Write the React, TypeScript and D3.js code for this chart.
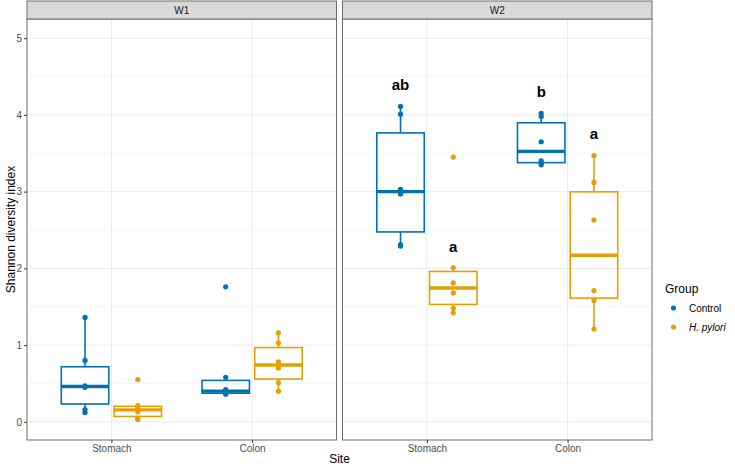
import { useEffect, useRef } from 'react'
import * as d3 from 'd3'

const WEEKS = ['W1', 'W2']
const SITES = ['Stomach', 'Colon']
const GROUPS = ['Control', 'H. pylori']
const Y_TICKS = [0, 1, 2, 3, 4, 5]

// Shannon values
const w1ControlStomach = [1.36, 0.8, 0.47, 0.45, 0.16, 0.12]
const w1PyloriStomach = [0.55, 0.21, 0.18, 0.13, 0.05, 0.03]
const w1ControlColon = [1.76, 0.58, 0.42, 0.38, 0.37, 0.36]
const w1PyloriColon = [1.16, 1.03, 0.78, 0.7, 0.51, 0.4]
const w2ControlStomach = [4.11, 4.01, 3.03, 2.97, 2.31, 2.29]
const w2PyloriStomach = [3.45, 2.01, 1.81, 1.68, 1.48, 1.42]
const w2ControlColon = [4.02, 3.98, 3.65, 3.4, 3.37, 3.35]
const w2PyloriColon = [3.47, 3.12, 2.63, 1.71, 1.58, 1.21]

// significance letters (W2 only), order: Stomach/Control, Stomach/Pylori, Colon/Control, Colon/Pylori
const w2Letters = ['ab', 'a', 'b', 'a']

const COLORS: Record<string, string> = {
  Control: '#0072B2',
  'H. pylori': '#E69F00',
}

type Cell = { week: string; site: string; group: string; values: number[]; letter?: string }

const cells: Cell[] = [
  { week: 'W1', site: 'Stomach', group: 'Control', values: w1ControlStomach },
  { week: 'W1', site: 'Stomach', group: 'H. pylori', values: w1PyloriStomach },
  { week: 'W1', site: 'Colon', group: 'Control', values: w1ControlColon },
  { week: 'W1', site: 'Colon', group: 'H. pylori', values: w1PyloriColon },
  { week: 'W2', site: 'Stomach', group: 'Control', values: w2ControlStomach, letter: w2Letters[0] },
  { week: 'W2', site: 'Stomach', group: 'H. pylori', values: w2PyloriStomach, letter: w2Letters[1] },
  { week: 'W2', site: 'Colon', group: 'Control', values: w2ControlColon, letter: w2Letters[2] },
  { week: 'W2', site: 'Colon', group: 'H. pylori', values: w2PyloriColon, letter: w2Letters[3] },
]

function boxStats(values: number[]) {
  const s = [...values].sort(d3.ascending)
  const q1 = d3.quantile(s, 0.25) ?? 0
  const med = d3.quantile(s, 0.5) ?? 0
  const q3 = d3.quantile(s, 0.75) ?? 0
  const iqr = q3 - q1
  const lo = d3.min(s.filter((v) => v >= q1 - 1.5 * iqr)) ?? q1
  const hi = d3.max(s.filter((v) => v <= q3 + 1.5 * iqr)) ?? q3
  return { q1, med, q3, lo, hi }
}

export default function App() {
  const svgRef = useRef<SVGSVGElement>(null)

  useEffect(() => {
    document.body.style.margin = '0'
    if (!svgRef.current) return
    const width = 735
    const height = 468
    const font = '"Liberation Sans", Arial, sans-serif'

    const panelTop = 19
    const panelBottom = 440
    const stripTop = 1
    const panels = [
      { week: 'W1', left: 27, right: 336.5 },
      { week: 'W2', left: 342.5, right: 652 },
    ]

    const svg = d3.select(svgRef.current)
    svg.selectAll('*').remove()
    svg.attr('width', width).attr('height', height).style('font-family', font)
    svg.append('rect').attr('width', width).attr('height', height).attr('fill', '#fff')

    const y = d3.scaleLinear([-0.237, 5.25], [panelBottom, panelTop])
    const minorTicks = d3.range(-0.5, 5.5, 1).filter((v) => y(v) <= panelBottom && y(v) >= panelTop)

    panels.forEach((p, pi) => {
      const x = d3.scalePoint(SITES, [p.left, p.right]).padding(0.6)
      const step = x.step()
      const dodge = d3.scalePoint(GROUPS, [-0.1875 * step, 0.1875 * step])
      const boxW = 0.3375 * step

      const g = svg.append('g')

      // grid
      g.selectAll('line.minor')
        .data(minorTicks)
        .join('line')
        .attr('x1', p.left)
        .attr('x2', p.right)
        .attr('y1', (d) => y(d))
        .attr('y2', (d) => y(d))
        .attr('stroke', '#F2F2F2')
        .attr('stroke-width', 0.6)
      g.selectAll('line.major')
        .data(Y_TICKS)
        .join('line')
        .attr('x1', p.left)
        .attr('x2', p.right)
        .attr('y1', (d) => y(d))
        .attr('y2', (d) => y(d))
        .attr('stroke', '#EBEBEB')
        .attr('stroke-width', 1)
      g.selectAll('line.vmajor')
        .data(SITES)
        .join('line')
        .attr('x1', (d) => x(d) ?? 0)
        .attr('x2', (d) => x(d) ?? 0)
        .attr('y1', panelTop)
        .attr('y2', panelBottom)
        .attr('stroke', '#EBEBEB')
        .attr('stroke-width', 1)

      // boxes
      const data = cells.filter((c) => c.week === p.week)
      data.forEach((c) => {
        const cx = (x(c.site) ?? 0) + (dodge(c.group) ?? 0)
        const st = boxStats(c.values)
        const col = COLORS[c.group]
        const bg = g.append('g')
        bg.append('line')
          .attr('x1', cx).attr('x2', cx)
          .attr('y1', y(st.q3)).attr('y2', y(st.hi))
          .attr('stroke', col).attr('stroke-width', 1.6)
        bg.append('line')
          .attr('x1', cx).attr('x2', cx)
          .attr('y1', y(st.q1)).attr('y2', y(st.lo))
          .attr('stroke', col).attr('stroke-width', 1.6)
        bg.append('rect')
          .attr('x', cx - boxW / 2)
          .attr('y', y(st.q3))
          .attr('width', boxW)
          .attr('height', y(st.q1) - y(st.q3))
          .attr('fill', 'none')
          .attr('stroke', col)
          .attr('stroke-width', 1.6)
        bg.append('line')
          .attr('x1', cx - boxW / 2).attr('x2', cx + boxW / 2)
          .attr('y1', y(st.med)).attr('y2', y(st.med))
          .attr('stroke', col).attr('stroke-width', 3.4)
        bg.selectAll('circle')
          .data(c.values)
          .join('circle')
          .attr('cx', cx)
          .attr('cy', (d) => y(d))
          .attr('r', 2.6)
          .attr('fill', col)
        if (c.letter) {
          bg.append('text')
            .attr('x', cx)
            .attr('y', y(st.hi + 0.28))
            .attr('dy', '0.36em')
            .attr('text-anchor', 'middle')
            .attr('font-weight', 'bold')
            .attr('font-size', 15)
            .attr('fill', '#000')
            .text(c.letter)
        }
      })

      // border
      g.append('rect')
        .attr('x', p.left)
        .attr('y', panelTop)
        .attr('width', p.right - p.left)
        .attr('height', panelBottom - panelTop)
        .attr('fill', 'none')
        .attr('stroke', '#6e6e6e')
        .attr('stroke-width', 1)

      // strip
      g.append('rect')
        .attr('x', p.left)
        .attr('y', stripTop)
        .attr('width', p.right - p.left)
        .attr('height', panelTop - stripTop)
        .attr('fill', '#D9D9D9')
        .attr('stroke', '#6e6e6e')
        .attr('stroke-width', 1)
      g.append('text')
        .attr('x', (p.left + p.right) / 2)
        .attr('y', (stripTop + panelTop) / 2)
        .attr('dy', '0.35em')
        .attr('text-anchor', 'middle')
        .attr('font-size', 10)
        .attr('fill', '#1A1A1A')
        .text(WEEKS[pi])

      // x axis
      const xa = g.append('g').attr('transform', `translate(0,${panelBottom})`)
      xa.call(d3.axisBottom(x).tickSize(3).tickPadding(2))
      xa.select('.domain').remove()
      xa.selectAll('line').attr('stroke', '#333')
      xa.selectAll('text').attr('fill', '#4D4D4D').attr('font-size', 10).attr('font-family', font)

      if (pi === 0) {
        const ya = g.append('g').attr('transform', `translate(${p.left},0)`)
        ya.call(d3.axisLeft(y).tickValues(Y_TICKS).tickFormat(d3.format('d')).tickSize(3).tickPadding(2))
        ya.select('.domain').remove()
        ya.selectAll('line').attr('stroke', '#333')
        ya.selectAll('text').attr('fill', '#4D4D4D').attr('font-size', 10).attr('font-family', font)
      }
    })

    // axis titles
    svg.append('text')
      .attr('x', (27 + 652) / 2)
      .attr('y', 463)
      .attr('text-anchor', 'middle')
      .attr('font-size', 12)
      .attr('fill', '#000')
      .text('Site')
    svg.append('text')
      .attr('transform', `translate(11,${(panelTop + panelBottom) / 2}) rotate(-90)`)
      .attr('text-anchor', 'middle')
      .attr('dy', '0.35em')
      .attr('font-size', 12)
      .attr('fill', '#000')
      .text('Shannon diversity index')

    // legend
    const lg = svg.append('g').attr('transform', 'translate(665,289)')
    lg.append('text')
      .attr('x', 0)
      .attr('y', 0)
      .attr('dy', '0.35em')
      .attr('font-size', 12)
      .attr('fill', '#000')
      .text('Group')
    GROUPS.forEach((grp, i) => {
      const yy = 19 + i * 19
      lg.append('circle').attr('cx', 8.5).attr('cy', yy).attr('r', 2.6).attr('fill', COLORS[grp])
      lg.append('text')
        .attr('x', 24)
        .attr('y', yy)
        .attr('dy', '0.35em')
        .attr('font-size', 10)
        .attr('font-style', i === 1 ? 'italic' : 'normal')
        .attr('fill', '#000')
        .text(grp)
    })
  }, [])

  return <svg ref={svgRef} style={{ display: 'block' }} />
}
